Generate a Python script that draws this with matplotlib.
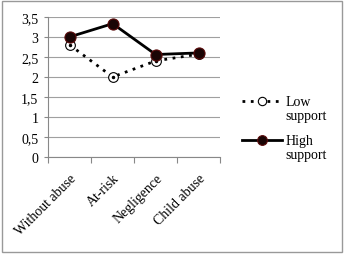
import matplotlib
matplotlib.use("Agg")
import matplotlib.pyplot as plt
from matplotlib.patches import Rectangle
from matplotlib.lines import Line2D

categories = ["Without abuse", "At-risk", "Negligence", "Child abuse"]
low_support = [2.8, 2.0, 2.4, 2.57]
high_support = [3.0, 3.33, 2.56, 2.6]
y_ticks = [0, 0.5, 1, 1.5, 2, 2.5, 3, 3.5]
y_tick_labels = ["0", "0,5", "1", "1,5", "2", "2,5", "3", "3,5"]
series_names = ["Low\nsupport", "High\nsupport"]

plt.rcParams['font.family'] = ['Liberation Serif', 'DejaVu Serif']

fig = plt.figure(figsize=(3.44, 2.55), dpi=100)
ax = fig.add_axes([0.14, 0.38, 0.50, 0.55])

low_style = dict(linestyle=(0, (1, 2)), color='black', linewidth=2.0,
                 marker='o', markersize=7, markerfacecolor='white', markeredgecolor='black',
                 markeredgewidth=0.8)
high_style = dict(linestyle='-', color='black', linewidth=2.0,
                  marker='o', markersize=8, markerfacecolor='#1a0505', markeredgecolor='#5a0a0a',
                  markeredgewidth=0.8)

x = list(range(len(categories)))
ax.plot(x, low_support, zorder=3, **low_style)
ax.plot(x, low_support, linestyle='none', marker='.', markersize=3, color='black', zorder=3.5)
ax.plot(x, high_support, zorder=4, **high_style)

ax.set_xlim(-0.5, 3.5)
ax.set_ylim(0, 3.5)
ax.set_yticks(y_ticks)
ax.set_yticklabels(y_tick_labels, fontsize=10)
ax.set_xticks(x)
ax.set_xticklabels(categories, rotation=45, ha='right', rotation_mode='anchor', fontsize=10)
ax.set_xticks([-0.5, 0.5, 1.5, 2.5, 3.5], minor=True)
ax.tick_params(axis='x', which='major', length=0, pad=10)
ax.tick_params(axis='x', which='minor', length=4, color='#888888', width=0.8)
ax.tick_params(axis='y', length=3, color='#888888', width=0.8, pad=4)
ax.grid(axis='y', color='#a0a0a0', linewidth=0.8)
ax.set_axisbelow(True)
for s in ['top', 'right']:
    ax.spines[s].set_visible(False)
for s in ['left', 'bottom']:
    ax.spines[s].set_color('#888888')
    ax.spines[s].set_linewidth(0.8)

# manual legend (handle aligned with first text line)
for name, style, yy in [(series_names[0], low_style, 0.600), (series_names[1], high_style, 0.447)]:
    fig.add_artist(Line2D([0.703, 0.82], [yy, yy], transform=fig.transFigure,
                          **{k: v for k, v in style.items() if not k.startswith('marker')}))
    fig.add_artist(Line2D([0.762], [yy], transform=fig.transFigure, linestyle='none',
                          marker='o', markersize=style['markersize'] - 1,
                          markerfacecolor=style['markerfacecolor'],
                          markeredgecolor=style['markeredgecolor'], markeredgewidth=0.8))
    fig.text(0.831, yy + 0.025, name, fontsize=10, va='top', ha='left', linespacing=1.1)

fig.patches.append(Rectangle((0.006, 0.008), 0.988, 0.984, transform=fig.transFigure,
                             fill=False, edgecolor='#999999', linewidth=1.0))

fig.savefig("out.png", dpi=100)
